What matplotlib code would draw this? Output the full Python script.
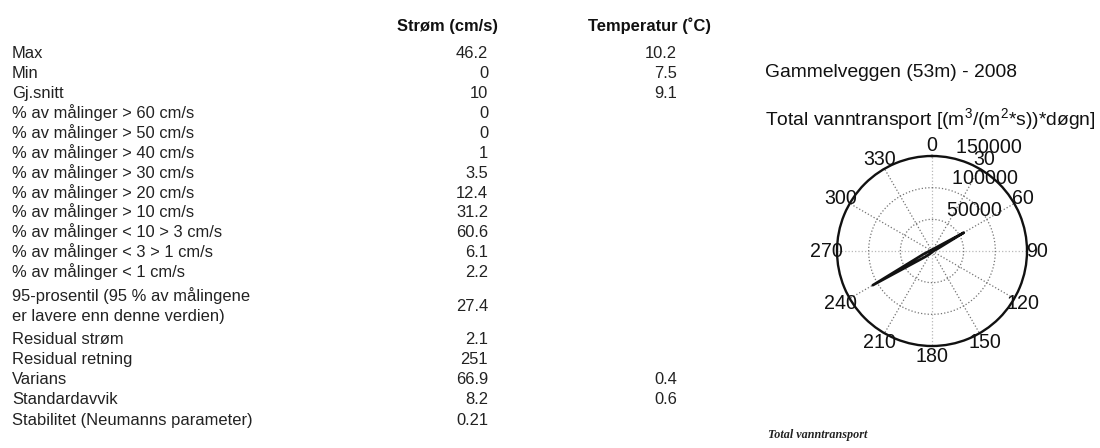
import numpy as np
import matplotlib
matplotlib.use("Agg")
import matplotlib.pyplot as plt

plt.rcParams['font.family'] = ['Liberation Sans', 'DejaVu Sans']
plt.rcParams['mathtext.fontset'] = 'custom'
plt.rcParams['mathtext.rm'] = 'Liberation Sans'
plt.rcParams['mathtext.it'] = 'Liberation Sans:italic'
plt.rcParams['mathtext.bf'] = 'Liberation Sans:bold'

# ---------------- data ----------------
row_labels = [
    "Max", "Min", "Gj.snitt",
    "% av målinger > 60 cm/s", "% av målinger > 50 cm/s",
    "% av målinger > 40 cm/s", "% av målinger > 30 cm/s",
    "% av målinger > 20 cm/s", "% av målinger > 10 cm/s",
    "% av målinger < 10 > 3 cm/s", "% av målinger < 3 > 1 cm/s",
    "% av målinger < 1 cm/s",
    "95-prosentil (95 % av målingene\ner lavere enn denne verdien)",
    "Residual strøm", "Residual retning", "Varians", "Standardavvik",
    "Stabilitet (Neumanns parameter)",
]
strom_values = ["46.2", "0", "10", "0", "0", "1", "3.5", "12.4", "31.2",
                "60.6", "6.1", "2.2", "27.4", "2.1", "251", "66.9", "8.2", "0.21"]
temp_values = ["10.2", "7.5", "9.1", "", "", "", "", "", "", "", "", "", "",
               "", "", "0.4", "0.6", ""]
col_headers = ["Strøm (cm/s)", "Temperatur (˚C)"]

title_station = "Gammelveggen (53m) - 2008"
title_polar = r"Total vanntransport [(m$^3$/(m$^2$*s))*døgn]"
caption = "Total vanntransport"

direction_deg = [0, 10, 20, 30, 40, 50, 60, 70, 80, 90, 100, 110,
                 120, 130, 140, 150, 160, 170, 180, 190, 200, 210, 220, 230,
                 240, 250, 260, 270, 280, 290, 300, 310, 320, 330, 340, 350]
transport = [1500, 1500, 1800, 2500, 4000, 9000, 58000, 8000, 3500, 2500, 2000, 1500,
             1200, 1000, 1000, 1000, 1200, 1500, 2000, 2500, 3000, 4000, 7000, 15000,
             108000, 14000, 6000, 4000, 3000, 2500, 2000, 1800, 1500, 1200, 1200, 1500]
ring_values = [50000, 100000, 150000]
angle_ticks = [0, 30, 60, 90, 120, 150, 180, 210, 240, 270, 300, 330]

# ---------------- layout helpers ----------------
W, H = 1100, 448
fig = plt.figure(figsize=(W / 100, H / 100), dpi=100)


def fx(x):
    return x / W


def fy(y):
    return 1 - y / H


FS = 11.9
TXT = '#222222'
# cap-centre y positions of each table row (pixels)
row_y = [52, 72, 92, 112, 132, 152, 172, 192, 211, 231, 251, 271, 305,
         338, 358, 378, 398, 419]
cap_off = 6

# headers
fig.text(fx(397), fy(24.5 + cap_off), col_headers[0], fontsize=FS,
         fontweight='bold', ha='left', va='baseline', color='#111111')
fig.text(fx(588), fy(24.5 + cap_off), col_headers[1], fontsize=FS,
         fontweight='bold', ha='left', va='baseline', color='#111111')

for lab, sv, tv, y in zip(row_labels, strom_values, temp_values, row_y):
    if "\n" in lab:
        l1, l2 = lab.split("\n")
        fig.text(fx(12), fy(295 + cap_off), l1, fontsize=FS, ha='left', va='baseline', color=TXT)
        fig.text(fx(12), fy(315 + cap_off), l2, fontsize=FS, ha='left', va='baseline', color=TXT)
    else:
        fig.text(fx(12), fy(y + cap_off), lab, fontsize=FS, ha='left', va='baseline', color=TXT)
    fig.text(fx(488), fy(y + cap_off), sv, fontsize=FS, ha='right', va='baseline', color=TXT)
    if tv:
        fig.text(fx(677), fy(y + cap_off), tv, fontsize=FS, ha='right', va='baseline', color=TXT)

# titles
TFS = 13.9
fig.text(fx(765), fy(70 + 7), title_station, fontsize=TFS, ha='left', va='baseline', color='#111111')
fig.text(fx(765), fy(118 + 7), title_polar, fontsize=TFS, ha='left', va='baseline', color='#111111')

# ---------------- polar plot ----------------
cx, cy, R = 932, 251, 95
ax = fig.add_axes([fx(cx - R), fy(cy + R), 2 * R / W, 2 * R / H], projection='polar')
ax.set_theta_zero_location('N')
ax.set_theta_direction(-1)
rmax = ring_values[-1]
ax.set_ylim(0, rmax)
ax.grid(False)
ax.set_xticks([])
ax.set_yticks([])
ax.patch.set_alpha(0)
ax.spines['polar'].set_linewidth(1.7)
ax.spines['polar'].set_color('#111111')

# spokes
for a in angle_ticks:
    col = '0.72' if a % 90 == 0 else '0.45'
    ax.plot([np.deg2rad(a), np.deg2rad(a)], [0, rmax], ls=':', color=col, lw=0.9, zorder=1)
# rings
th = np.linspace(0, 2 * np.pi, 361)
for r in ring_values[:-1]:
    ax.plot(th, np.full_like(th, r), ls=':', color='0.45', lw=0.9, zorder=1)

# data
theta = np.deg2rad(np.array(direction_deg + [direction_deg[0]]))
rr = np.array(transport + [transport[0]])
ax.plot(theta, rr, color='#111111', lw=1.9, zorder=3)

PFS = 14.1
for r in ring_values:
    ax.text(np.deg2rad(8), r, '  ' + str(r), fontsize=PFS, ha='left', va='bottom',
            color='#111111', clip_on=False, zorder=4)
for a in angle_ticks:
    ax.text(np.deg2rad(a), rmax * 1.11, str(a), fontsize=PFS, ha='center', va='center',
            color='#111111', clip_on=False, zorder=4)

# caption
fig.text(fx(818), fy(435), caption, fontsize=8.7, family='Liberation Serif',
         style='italic', fontweight='bold', ha='center', va='center', color='#222222')

fig.savefig("out.png", dpi=100, facecolor='white')
